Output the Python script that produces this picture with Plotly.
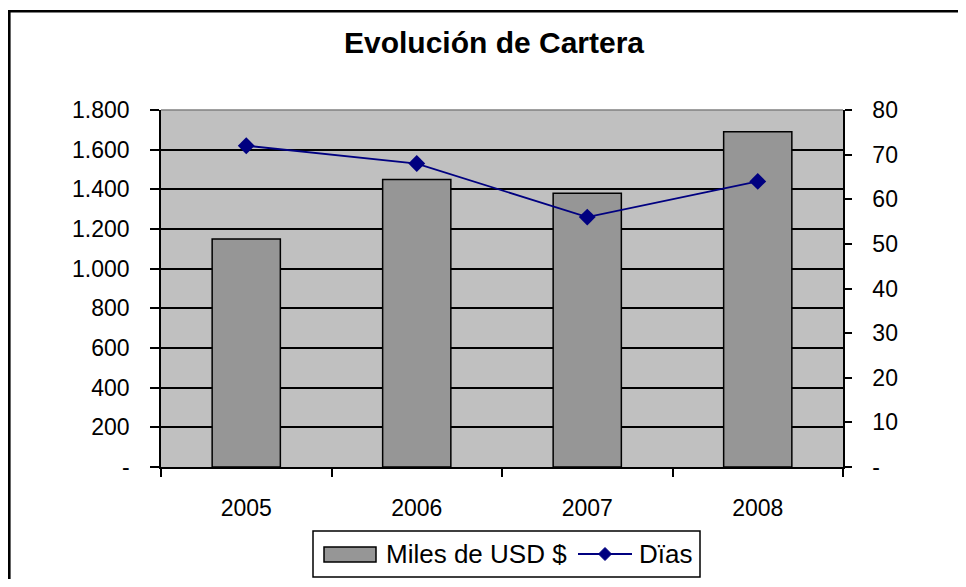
import plotly.graph_objects as go

# Data
years = ["2005", "2006", "2007", "2008"]
miles_usd = [1150, 1450, 1380, 1690]
dias = [72, 68, 56, 64]

left_tickvals = [0, 200, 400, 600, 800, 1000, 1200, 1400, 1600, 1800]
left_ticktext = ["-", "200", "400", "600", "800", "1.000", "1.200", "1.400", "1.600", "1.800"]
right_tickvals = [0, 10, 20, 30, 40, 50, 60, 70, 80]
right_ticktext = ["-", "10", "20", "30", "40", "50", "60", "70", "80"]

title_text = "Evolución de Cartera"
bar_name = "Miles de USD $"
line_name = "Dïas"

FONT = "Liberation Sans, Arial, sans-serif"
BAR_COLOR = "#969696"
LINE_COLOR = "#000080"

# page offset (default body margin) and figure size
OFF = 8
FW, FH = 966 - 2 * OFF, 587 - 2 * OFF

# plot-area geometry in page pixels
L, R, T, B = 161, 843, 110, 467
W, H = R - L, B - T


def px(x):
    return (x - L) / W


def py(y):
    return (B - y) / H


fig = go.Figure()
fig.add_trace(go.Bar(
    x=years, y=miles_usd, name=bar_name,
    marker=dict(color=BAR_COLOR, line=dict(color="black", width=1.5)),
    yaxis="y", showlegend=False,
))
fig.add_trace(go.Scatter(
    x=years, y=dias, name=line_name, mode="lines+markers",
    line=dict(color=LINE_COLOR, width=1.8),
    marker=dict(symbol="diamond", size=13, color=LINE_COLOR),
    yaxis="y2", showlegend=False,
))

bx0, by_top = px(OFF + 1.3), py(11.3)
bx_end, by_end = px(OFF + FW), py(OFF + FH)

shapes = [
    # top border of plot area
    dict(type="line", xref="paper", yref="paper", x0=0, x1=1, y0=1, y1=1,
         line=dict(color="#808080", width=1.5)),
    # outer chart border (left and top edges; the rest lies outside the image)
    dict(type="path", xref="paper", yref="paper",
         path=f"M {bx0} {by_end} L {bx0} {by_top} L {bx_end} {by_top}",
         line=dict(color="black", width=2.6)),
    # legend box
    dict(type="rect", xref="paper", yref="paper",
         x0=px(313), x1=px(700), y0=py(577), y1=py(531),
         line=dict(color="black", width=1.5), fillcolor="white"),
    # bar swatch
    dict(type="rect", xref="paper", yref="paper",
         x0=px(324), x1=px(376), y0=py(562), y1=py(547),
         line=dict(color="black", width=1.5), fillcolor=BAR_COLOR),
    # line swatch
    dict(type="line", xref="paper", yref="paper",
         x0=px(578), x1=px(632), y0=py(554), y1=py(554),
         line=dict(color=LINE_COLOR, width=1.8)),
    # diamond swatch
    dict(type="path", xref="paper", yref="paper",
         path=(f"M {px(598.5)} {py(554)} L {px(605)} {py(547.5)} "
               f"L {px(611.5)} {py(554)} L {px(605)} {py(560.5)} Z"),
         line=dict(color=LINE_COLOR, width=1), fillcolor=LINE_COLOR),
]

annotations = [
    dict(text=bar_name, xref="paper", yref="paper", x=px(384), y=py(554),
         xanchor="left", yanchor="middle", showarrow=False,
         font=dict(family=FONT, size=26, color="black")),
    dict(text=line_name, xref="paper", yref="paper", x=px(637), y=py(554),
         xanchor="left", yanchor="middle", showarrow=False,
         font=dict(family=FONT, size=26, color="black")),
]

fig.update_layout(
    width=FW, height=FH,
    margin=dict(l=L - OFF, r=FW - (R - OFF), t=T - OFF, b=FH - (B - OFF), pad=0),
    paper_bgcolor="white",
    plot_bgcolor="#C0C0C0",
    font=dict(family=FONT, size=23, color="black"),
    title=dict(text=f"<b>{title_text}</b>", xref="paper", x=px(494),
               yref="container", y=1 - (42 - OFF) / FH, xanchor="center", yanchor="middle",
               font=dict(family=FONT, size=30, color="black")),
    bargap=0.6,
    xaxis=dict(
        type="category", showline=True, linecolor="black", linewidth=1.5,
        ticks="outside", ticklen=8, tickwidth=1.5, tickcolor="black",
        tickson="boundaries", showgrid=False, ticklabelstandoff=20,
        tickfont=dict(family=FONT, size=23, color="black"),
        range=[-0.5, 3.5],
    ),
    yaxis=dict(
        range=[0, 1800], tickvals=left_tickvals, ticktext=left_ticktext,
        showline=True, linecolor="black", linewidth=1.5,
        ticks="outside", ticklen=9, tickwidth=1.5, tickcolor="black",
        showgrid=True, gridcolor="black", gridwidth=1.5,
        zeroline=False, ticklabelstandoff=16,
        tickfont=dict(family=FONT, size=23, color="black"),
    ),
    yaxis2=dict(
        range=[0, 80], tickvals=right_tickvals, ticktext=right_ticktext,
        overlaying="y", side="right",
        showline=True, linecolor="black", linewidth=1.5,
        ticks="outside", ticklen=7, tickwidth=1.5, tickcolor="black",
        showgrid=False, zeroline=False, ticklabelstandoff=16,
        tickfont=dict(family=FONT, size=23, color="black"),
    ),
    shapes=shapes,
    annotations=annotations,
)

fig.write_html("out.html")
